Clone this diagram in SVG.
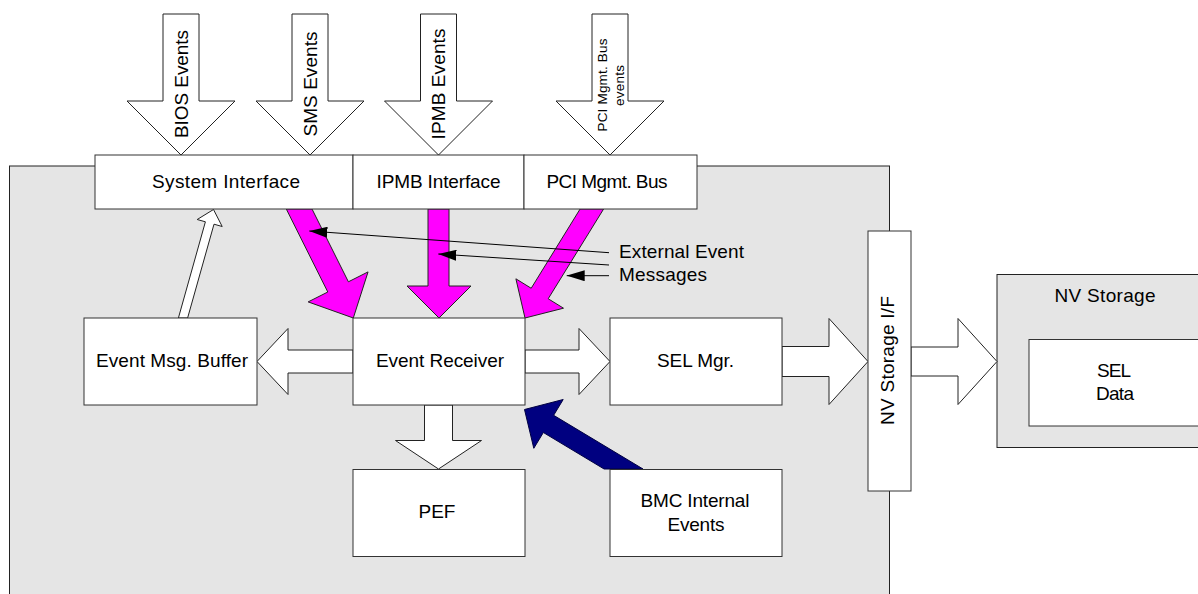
<svg xmlns="http://www.w3.org/2000/svg" width="1198" height="594" viewBox="0 0 1198 594">
<style>
text{font-family:"Liberation Sans",Arial,sans-serif;font-size:19px;fill:#000}
.s{font-size:13.5px}
.box{fill:#fff;stroke:#333;stroke-width:1}
.gray{fill:#e5e5e5;stroke:#222;stroke-width:1}
.wa{fill:#fff;stroke:#222;stroke-width:1}
.pa{fill:#ff00ff;stroke:#222;stroke-width:1}
.na{fill:#000080;stroke:#000040;stroke-width:1}
.ln{stroke:#000;stroke-width:1;fill:none;marker-end:url(#ah)}
</style>
<defs>
<marker id="ah" markerWidth="18" markerHeight="11" refX="18" refY="5.5" orient="auto" markerUnits="userSpaceOnUse">
<path d="M0,0 L18,5.5 L0,11 z" fill="#000"/>
</marker>
</defs>
<rect id="bmc" class="gray" x="9.5" y="166" width="880" height="440"/>
<g id="nvstorage">
<rect class="gray" x="997" y="274.5" width="220" height="173"/>
<text x="1105" y="302" text-anchor="middle" textLength="101">NV Storage</text>
</g>
<g id="seldata">
<rect class="box" x="1029" y="339.5" width="200" height="86.5"/>
<text x="1114" y="377" text-anchor="middle" textLength="34">SEL</text>
<text x="1115" y="399.5" text-anchor="middle" textLength="38">Data</text>
</g>
<g id="connectors">
<polygon class="wa" points="163,14 199,14 199,101 235,101 181,155 127,101 163,101"/>
<polygon class="wa" points="292,14 328,14 328,101 364,101 310,155 256,101 292,101"/>
<polygon class="wa" points="420.5,14 456.5,14 456.5,101 492.5,101 438.5,155 384.5,101 420.5,101"/>
<polygon class="wa" points="592,14 628,14 628,101 664,101 610,155 556,101 592,101"/>
<polygon class="pa" points="353.3,318 368.05,271.9 348.4,281.8 312,209 286.3,209 327.8,292 308.15,301.9"/>
<polygon class="pa" points="439,318 471,286 449,286 449,209 428,209 428,286 407,286"/>
<polygon class="pa" points="525,318 563.5,308.2 548.2,298.75 603.6,209 580.1,209 531.2,288.25 515.9,278.8"/>
<polygon class="wa" points="213.5,209.5 222.2,226.5 214,224.2 187.6,318 178.4,318 205.4,221.8 197.2,219.5"/>
<polygon class="wa" points="257,361.5 288,328.5 288,350 353,350 353,373 288,373 288,394.5"/>
<polygon class="wa" points="525,350 579,350 579,328.5 610,361.5 579,394.5 579,373 525,373"/>
<polygon class="wa" points="782,346.5 829,346.5 829,318.5 868,361.5 829,404.5 829,376.5 782,376.5"/>
<polygon class="wa" points="911,347 958,347 958,318.5 997,361.5 958,404.5 958,376 911,376"/>
<polygon class="wa" points="424.5,405 452.5,405 452.5,440.5 481.5,440.5 438.5,469 395.5,440.5 424.5,440.5"/>
<polygon class="na" points="524.5,409.5 563.2,399.5 553.65,415.3 643,469 604.1,469 543.35,432.5 533.8,448.3"/>
<line class="ln" x1="609" y1="252.7" x2="309.3" y2="231"/>
<line class="ln" x1="609" y1="265" x2="438.3" y2="254"/>
<line class="ln" x1="609" y1="275.7" x2="566.7" y2="275.7"/>
<text transform="translate(187.5,84) rotate(-90)" text-anchor="middle" textLength="108">BIOS Events</text>
<text transform="translate(316.5,84) rotate(-90)" text-anchor="middle" textLength="105">SMS Events</text>
<text transform="translate(445,84) rotate(-90)" text-anchor="middle" textLength="111">IPMB Events</text>
<text class="s" transform="translate(607.3,85) rotate(-90)" text-anchor="middle" textLength="93">PCI Mgmt. Bus</text>
<text class="s" transform="translate(624,85.5) rotate(-90)" text-anchor="middle" textLength="41">events</text>
<text x="619" y="258" textLength="125">External Event</text>
<text x="619" y="281" textLength="88">Messages</text>
</g>
<g id="sysif">
<rect class="box" x="95" y="155" width="258" height="54"/>
<text x="226" y="188" text-anchor="middle" textLength="148">System Interface</text>
</g>
<g id="ipmbif">
<rect class="box" x="353" y="155" width="171" height="54"/>
<text x="438.5" y="188" text-anchor="middle" textLength="124">IPMB Interface</text>
</g>
<g id="pciif">
<rect class="box" x="524" y="155" width="173" height="54"/>
<text x="607" y="188" text-anchor="middle" textLength="121">PCI Mgmt. Bus</text>
</g>
<g id="buffer">
<rect class="box" x="84" y="318" width="173" height="87"/>
<text x="172" y="367" text-anchor="middle" textLength="152">Event Msg. Buffer</text>
</g>
<g id="receiver">
<rect class="box" x="353" y="318" width="172" height="87"/>
<text x="440" y="367" text-anchor="middle" textLength="128">Event Receiver</text>
</g>
<g id="selmgr">
<rect class="box" x="610" y="318" width="172" height="87"/>
<text x="695.5" y="367" text-anchor="middle" textLength="77">SEL Mgr.</text>
</g>
<g id="pef">
<rect class="box" x="353" y="469.5" width="172" height="87"/>
<text x="437" y="518" text-anchor="middle">PEF</text>
</g>
<g id="internal">
<rect class="box" x="610" y="469.5" width="172" height="87"/>
<text x="695" y="507" text-anchor="middle" textLength="109">BMC Internal</text>
<text x="696" y="531" text-anchor="middle" textLength="57">Events</text>
</g>
<g id="nvif">
<rect class="box" x="868" y="231" width="43" height="260"/>
<text transform="translate(894,360.5) rotate(-90)" text-anchor="middle" textLength="129">NV Storage I/F</text>
</g>
</svg>
